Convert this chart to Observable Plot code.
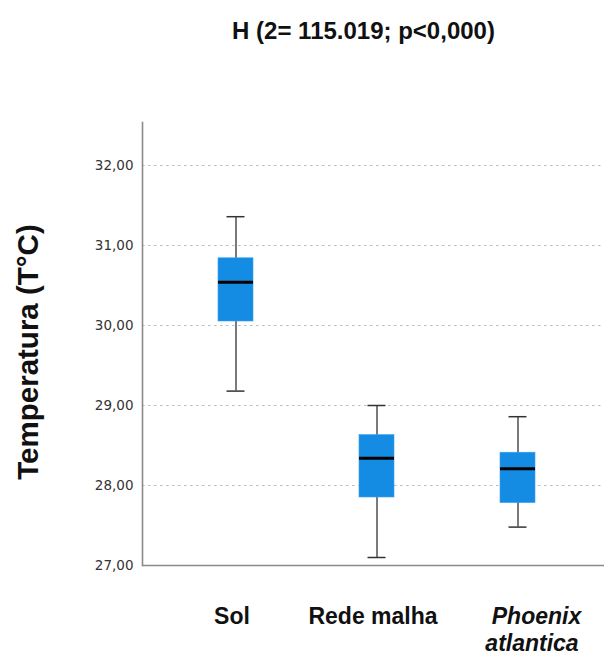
<!DOCTYPE html>
<html>
<head>
<meta charset="utf-8">
<script src="https://cdn.jsdelivr.net/npm/d3@7"></script>
<script src="https://cdn.jsdelivr.net/npm/@observablehq/plot@0.6"></script>
<style>
  html, body { margin: 0; padding: 0; background: white; }
</style>
</head>
<body>
<div id="chart"></div>
<script>
const categories = ["Sol", "Rede malha", "Phoenix atlantica"];
const lowWhisker = [29.18, 27.10, 27.48];
const q1 = [30.05, 27.85, 27.78];
const median = [30.54, 28.34, 28.21];
const q3 = [30.84, 28.63, 28.41];
const highWhisker = [31.36, 29.00, 28.86];
const yTicks = [27, 28, 29, 30, 31, 32];
const titleText = "H (2= 115.019; p<0,000)";
const yLabel = "Temperatura (T°C)";

const rows = categories.map((c, i) => ({
  cat: c, lo: lowWhisker[i], q1: q1[i], med: median[i], q3: q3[i], hi: highWhisker[i]
}));

const plainLabels = categories.filter(c => c !== "Phoenix atlantica");
const italicCat = "Phoenix atlantica";
const [italic1, italic2] = italicCat.split(" ");

const boldFont = "Liberation Sans, Arial, sans-serif";

const chart = Plot.plot({
  width: 604,
  height: 659,
  marginTop: 122,
  marginBottom: 94,
  marginLeft: 142,
  marginRight: 0,
  style: { background: "white", overflow: "visible" },
  x: { type: "band", domain: categories, range: [164.5, 587.5], padding: 0, axis: null },
  y: { domain: [27, 32.5375], axis: null },
  marks: [
    Plot.ruleY(yTicks.filter(t => t > 27), { stroke: "#bdbdbd", strokeDasharray: "2.5,3.5", strokeWidth: 1 }),
    Plot.axisY({
      ticks: yTicks, tickSize: 0, tickPadding: 9, label: null,
      tickFormat: d => d.toFixed(2).replace(".", ","),
      fontSize: 13.5, fontFamily: "DejaVu Sans, sans-serif", fill: "#333"
    }),
    Plot.ruleX(rows, { x: "cat", y1: "lo", y2: "hi", stroke: "#333", strokeWidth: 1.3 }),
    Plot.tickY(rows, { x: "cat", y: "lo", insetLeft: 61.5, insetRight: 61.5, stroke: "#333", strokeWidth: 1.5 }),
    Plot.tickY(rows, { x: "cat", y: "hi", insetLeft: 61.5, insetRight: 61.5, stroke: "#333", strokeWidth: 1.5 }),
    Plot.barY(rows, { x: "cat", y1: "q1", y2: "q3", insetLeft: 53, insetRight: 53, fill: "#148ce4", stroke: "#3aa0ee", strokeWidth: 0.6 }),
    Plot.tickY(rows, { x: "cat", y: "med", insetLeft: 53, insetRight: 53, stroke: "#000", strokeWidth: 3 }),
    Plot.ruleY([27], { stroke: "#8a8a8a", strokeWidth: 1.6 }),
    Plot.frame({ anchor: "left", stroke: "#8a8a8a", strokeWidth: 1.6 }),
    Plot.text([titleText], {
      text: d => d, frameAnchor: "top", dx: -10, dy: -100.5,
      fontSize: 24, fontWeight: "bold", fontFamily: boldFont, fill: "#111"
    }),
    Plot.text([yLabel], {
      text: d => d, frameAnchor: "left", textAnchor: "middle", rotate: -90, dx: -114, dy: 8,
      fontSize: 29.5, fontWeight: "bold", fontFamily: boldFont, fill: "#111"
    }),
    Plot.text(plainLabels, {
      x: d => d, text: d => d, frameAnchor: "bottom", dy: 58.5, dx: -4,
      fontSize: 23, fontWeight: "bold", fontFamily: boldFont, fill: "#111"
    }),
    Plot.text([italic1], {
      x: () => italicCat, text: d => d, frameAnchor: "bottom", dy: 58.5, dx: 18.5,
      fontSize: 23, fontWeight: "bold", fontStyle: "italic", fontFamily: boldFont, fill: "#111"
    }),
    Plot.text([italic2], {
      x: () => italicCat, text: d => d, frameAnchor: "bottom", dy: 85.5, dx: 14,
      fontSize: 23, fontWeight: "bold", fontStyle: "italic", fontFamily: boldFont, fill: "#111"
    })
  ]
});
document.getElementById("chart").appendChild(chart);
</script>
</body>
</html>
